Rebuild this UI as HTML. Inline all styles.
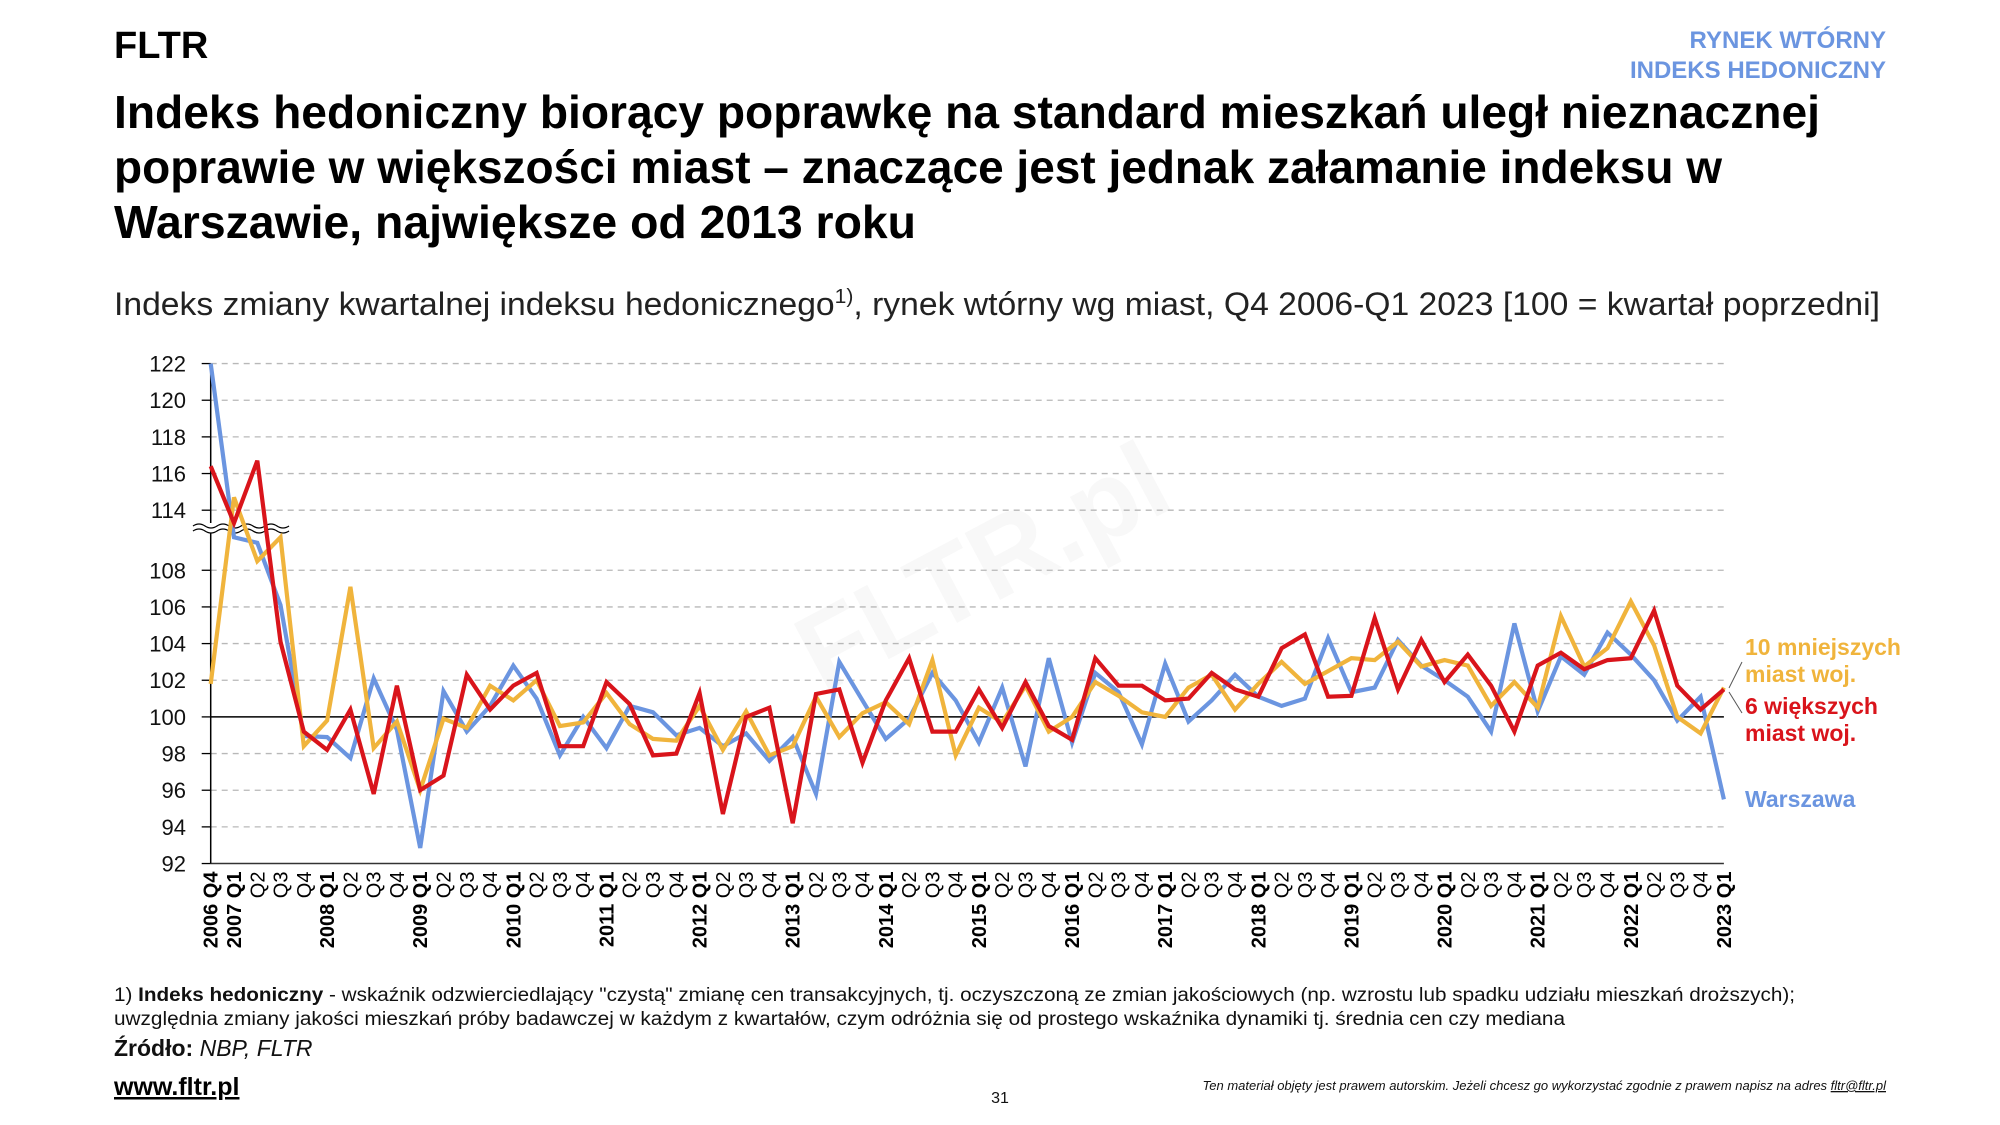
<!DOCTYPE html>
<html><head><meta charset="utf-8"><style>
body{margin:0;background:#fff;}
svg{display:block;font-family:"Liberation Sans",sans-serif;}
</style></head><body>
<svg id="s" width="2000" height="1125" viewBox="0 0 2000 1125" xmlns="http://www.w3.org/2000/svg">
<text x="114" y="58" font-size="38" font-weight="bold" fill="#000">FLTR</text>
<text x="1886" y="48" font-size="24" font-weight="bold" fill="#6b95e0" text-anchor="end">RYNEK WTÓRNY</text>
<text x="1886" y="78" font-size="24" font-weight="bold" fill="#6b95e0" text-anchor="end">INDEKS HEDONICZNY</text>
<g font-size="46" font-weight="bold" fill="#000">
<text x="114" y="128" textLength="1706" lengthAdjust="spacingAndGlyphs">Indeks hedoniczny biorący poprawkę na standard mieszkań uległ nieznacznej</text>
<text x="114" y="183" textLength="1608" lengthAdjust="spacingAndGlyphs">poprawie w większości miast – znaczące jest jednak załamanie indeksu w</text>
<text x="114" y="238" textLength="802" lengthAdjust="spacingAndGlyphs">Warszawie, największe od 2013 roku</text>
</g>
<text x="114" y="315" font-size="32" fill="#222" textLength="1766" lengthAdjust="spacingAndGlyphs">Indeks zmiany kwartalnej indeksu hedonicznego<tspan font-size="20" dy="-12">1)</tspan><tspan dy="12">, rynek wtórny wg miast, Q4 2006-Q1 2023 [100 = kwartał poprzedni]</tspan></text>
<text x="1000" y="600" font-size="110" font-weight="bold" fill="#f8f8f8" transform="rotate(-28 1000 600)" text-anchor="middle">FLTR.pl</text>
<g id="grid"></g>
<g id="lines"></g>
<g font-size="23" font-weight="bold">
<text x="1745" y="655" fill="#f0b43c">10 mniejszych</text>
<text x="1745" y="682" fill="#f0b43c">miast woj.</text>
<text x="1745" y="714" fill="#d9141b">6 większych</text>
<text x="1745" y="741" fill="#d9141b">miast woj.</text>
<text x="1745" y="807" fill="#6b95e0">Warszawa</text>
</g>
<line x1="1729" y1="688" x2="1742" y2="662" stroke="#555" stroke-width="1"/>
<line x1="1729" y1="692" x2="1742" y2="713" stroke="#555" stroke-width="1"/>
<text x="114" y="1001" font-size="19" fill="#111" textLength="1681" lengthAdjust="spacingAndGlyphs">1) <tspan font-weight="bold">Indeks hedoniczny</tspan> - wskaźnik odzwierciedlający "czystą" zmianę cen transakcyjnych, tj.  oczyszczoną ze zmian jakościowych (np. wzrostu lub spadku udziału mieszkań droższych);</text>
<text x="114" y="1025" font-size="19" fill="#111" textLength="1451" lengthAdjust="spacingAndGlyphs">uwzględnia zmiany jakości mieszkań próby badawczej w każdym z kwartałów, czym odróżnia się od prostego wskaźnika dynamiki tj. średnia cen czy mediana</text>
<text x="114" y="1056" font-size="23" fill="#111"><tspan font-weight="bold">Źródło:</tspan> <tspan font-style="italic">NBP, FLTR</tspan></text>
<text x="114" y="1095" font-size="25" font-weight="bold" fill="#000" text-decoration="underline">www.fltr.pl</text>
<text x="1000" y="1103" font-size="16" fill="#111" text-anchor="middle">31</text>
<text x="1886" y="1090" font-size="13" font-style="italic" fill="#111" text-anchor="end">Ten materiał objęty jest prawem autorskim. Jeżeli chcesz go wykorzystać zgodnie z prawem napisz na adres <tspan text-decoration="underline">fltr@fltr.pl</tspan></text>
</svg>
<script>
var NS="http://www.w3.org/2000/svg";
function el(p,t,a,txt){var e=document.createElementNS(NS,t);for(var k in a)e.setAttribute(k,a[k]);if(txt!==undefined)e.textContent=txt;p.appendChild(e);return e;}
var blue=[122,109.8,109.5,106.1,98.96,98.9,97.75,102.1,99.3,92.85,101.4,99.2,100.6,102.8,101,97.9,100,98.3,100.6,100.25,99,99.4,98.4,99.1,97.6,98.9,95.8,103,100.9,98.8,99.9,102.4,100.9,98.6,101.6,97.3,103.2,98.6,102.4,101.35,98.5,102.9,99.75,100.9,102.3,101.1,100.6,101,104.3,101.35,101.6,104.2,102.8,102,101.1,99.2,105.1,100.3,103.3,102.3,104.6,103.4,102,99.8,101.1,95.5];
var red=[116.4,113.3,116.7,104.1,99.2,98.2,100.4,95.8,101.7,96,96.8,102.3,100.4,101.7,102.4,98.4,98.4,101.9,100.7,97.9,98,101.3,94.7,100,100.5,94.2,101.25,101.5,97.5,100.9,103.2,99.2,99.2,101.5,99.4,101.9,99.5,98.75,103.2,101.7,101.7,100.9,101,102.4,101.5,101.1,103.75,104.5,101.1,101.15,105.4,101.5,104.2,101.9,103.4,101.7,99.2,102.8,103.5,102.6,103.1,103.2,105.8,101.7,100.4,101.5];
var yel=[101.8,114.7,108.5,109.8,98.4,99.8,107.1,98.3,99.75,96,99.9,99.4,101.7,100.9,102,99.5,99.7,101.3,99.6,98.8,98.7,100.6,98.2,100.3,97.9,98.4,101.1,98.9,100.2,100.8,99.6,103.1,97.9,100.5,99.7,101.7,99.2,100,101.9,101.15,100.25,100,101.6,102.3,100.4,101.8,103,101.8,102.5,103.2,103.1,104.1,102.75,103.1,102.8,100.6,101.9,100.5,105.5,102.75,103.75,106.3,103.9,100,99.1,101.6];
var X0=210.7,DX=23.28,XR=X0+65*DX,U=18.33,Y100=716.9,Y114=510.2;
function Y(v){return v>=111?Y114-(v-114)*U:Y100-(v-100)*U;}
var g=document.getElementById('grid');
var ticks=[92,94,96,98,100,102,104,106,108,114,116,118,120,122];
ticks.forEach(function(t){var y=Y(t);
 if(t!==100&&t!==92)el(g,'line',{x1:X0,x2:XR,y1:y,y2:y,stroke:'#b8b8b8','stroke-width':1.3,'stroke-dasharray':'6,5'});
 el(g,'line',{x1:X0-9,x2:X0,y1:y,y2:y,stroke:'#000','stroke-width':1.3});
 el(g,'text',{x:186,y:y+8,'font-size':22,'text-anchor':'end',fill:'#111'},String(t));});
var YB=Y(92);
el(g,'line',{x1:X0,x2:XR,y1:Y100,y2:Y100,stroke:'#000','stroke-width':1.5});
el(g,'line',{x1:X0,x2:XR,y1:YB,y2:YB,stroke:'#333','stroke-width':1.5});
el(g,'line',{x1:X0,x2:X0,y1:Y(122),y2:YB,stroke:'#000','stroke-width':1.5});
el(g,'rect',{x:195,y:523,width:90,height:10,fill:'#fff'});
['M193 526 q6 -4 12 0 t12 0 t12 0 t12 0 t12 0 t12 0 t12 0 t12 0','M193 531 q6 -4 12 0 t12 0 t12 0 t12 0 t12 0 t12 0 t12 0 t12 0'].forEach(function(d){el(g,'path',{d:d,fill:'none',stroke:'#000','stroke-width':1.3});});
for(var i=0;i<66;i++){var x=X0+i*DX, q=(i+3)%4+1, yr=2006+Math.floor((i+3)/4);
 var t=el(g,'text',{transform:'translate('+(x+7)+','+(YB+8)+') rotate(-90)','font-size':20,'text-anchor':'end',fill:'#000'});
 if(q===1||i===0){t.setAttribute('font-weight','bold');t.textContent=yr+' Q'+q;}else{t.textContent='Q'+q;}
}
var L=document.getElementById('lines');
[[blue,'#6b95e0'],[yel,'#f0b43c'],[red,'#d9141b']].forEach(function(p){
 var pts=p[0].map(function(v,i){return (X0+i*DX).toFixed(1)+','+Y(v).toFixed(1);}).join(' ');
 el(L,'polyline',{points:pts,fill:'none',stroke:p[1],'stroke-width':4.2,'stroke-linejoin':'miter'});});
</script>
</body></html>
